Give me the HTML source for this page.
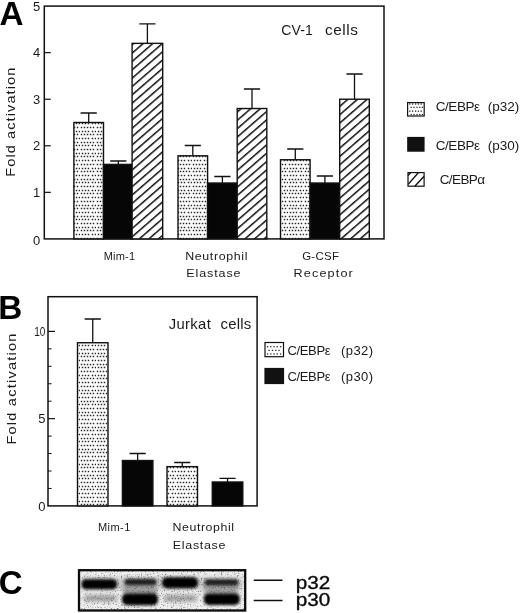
<!DOCTYPE html>
<html lang="en"><head><meta charset="utf-8"><title>Figure</title>
<style>
html,body{margin:0;padding:0;background:#fff;}
body{width:520px;height:613px;overflow:hidden;}
svg{display:block;font-family:"Liberation Sans", "DejaVu Sans", sans-serif;fill:#1a1a1a;}
</style></head><body>
<svg width="520" height="613" viewBox="0 0 520 613">
<defs>
<pattern id="dots" width="16" height="37" patternUnits="userSpaceOnUse"><g fill="#2a2a2a"><rect x="0.75" y="0.75" width="1.5" height="1.5"/><rect x="3.75" y="0.75" width="1.5" height="1.5"/><rect x="6.75" y="0.75" width="1.5" height="1.5"/><rect x="9.75" y="0.75" width="1.5" height="1.5"/><rect x="12.75" y="0.75" width="1.5" height="1.5"/><rect x="1.75" y="4.75" width="1.5" height="1.5"/><rect x="4.75" y="4.75" width="1.5" height="1.5"/><rect x="7.75" y="4.75" width="1.5" height="1.5"/><rect x="11.75" y="4.75" width="1.5" height="1.5"/><rect x="14.75" y="4.75" width="1.5" height="1.5"/><rect x="0.75" y="7.75" width="1.5" height="1.5"/><rect x="3.75" y="7.75" width="1.5" height="1.5"/><rect x="6.75" y="7.75" width="1.5" height="1.5"/><rect x="9.75" y="7.75" width="1.5" height="1.5"/><rect x="12.75" y="7.75" width="1.5" height="1.5"/><rect x="1.75" y="11.75" width="1.5" height="1.5"/><rect x="4.75" y="11.75" width="1.5" height="1.5"/><rect x="7.75" y="11.75" width="1.5" height="1.5"/><rect x="11.75" y="11.75" width="1.5" height="1.5"/><rect x="14.75" y="11.75" width="1.5" height="1.5"/><rect x="0.75" y="15.75" width="1.5" height="1.5"/><rect x="3.75" y="15.75" width="1.5" height="1.5"/><rect x="6.75" y="15.75" width="1.5" height="1.5"/><rect x="9.75" y="15.75" width="1.5" height="1.5"/><rect x="12.75" y="15.75" width="1.5" height="1.5"/><rect x="1.75" y="19.75" width="1.5" height="1.5"/><rect x="4.75" y="19.75" width="1.5" height="1.5"/><rect x="7.75" y="19.75" width="1.5" height="1.5"/><rect x="11.75" y="19.75" width="1.5" height="1.5"/><rect x="14.75" y="19.75" width="1.5" height="1.5"/><rect x="0.75" y="22.75" width="1.5" height="1.5"/><rect x="3.75" y="22.75" width="1.5" height="1.5"/><rect x="6.75" y="22.75" width="1.5" height="1.5"/><rect x="9.75" y="22.75" width="1.5" height="1.5"/><rect x="12.75" y="22.75" width="1.5" height="1.5"/><rect x="1.75" y="26.75" width="1.5" height="1.5"/><rect x="4.75" y="26.75" width="1.5" height="1.5"/><rect x="7.75" y="26.75" width="1.5" height="1.5"/><rect x="11.75" y="26.75" width="1.5" height="1.5"/><rect x="14.75" y="26.75" width="1.5" height="1.5"/><rect x="0.75" y="30.75" width="1.5" height="1.5"/><rect x="3.75" y="30.75" width="1.5" height="1.5"/><rect x="6.75" y="30.75" width="1.5" height="1.5"/><rect x="9.75" y="30.75" width="1.5" height="1.5"/><rect x="12.75" y="30.75" width="1.5" height="1.5"/><rect x="1.75" y="33.75" width="1.5" height="1.5"/><rect x="4.75" y="33.75" width="1.5" height="1.5"/><rect x="7.75" y="33.75" width="1.5" height="1.5"/><rect x="11.75" y="33.75" width="1.5" height="1.5"/><rect x="14.75" y="33.75" width="1.5" height="1.5"/></g></pattern>
<pattern id="hatch" width="6.3" height="6.3" patternUnits="userSpaceOnUse" patternTransform="rotate(-41)">
<rect x="0" y="0" width="6.3" height="1.5" fill="#111"/>
</pattern>
<pattern id="hatch2" width="5.6" height="5.6" patternUnits="userSpaceOnUse" patternTransform="translate(3.5,0) rotate(-45)">
<rect x="0" y="0" width="5.6" height="1.3" fill="#111"/>
</pattern>
<filter id="blur1" x="-20%" y="-50%" width="140%" height="200%"><feGaussianBlur stdDeviation="1.5"/></filter>
<filter id="blur2" x="-20%" y="-50%" width="140%" height="200%"><feGaussianBlur stdDeviation="2.2"/></filter>
<filter id="noise" x="0" y="0" width="100%" height="100%" color-interpolation-filters="sRGB">
<feTurbulence type="fractalNoise" baseFrequency="0.7" numOctaves="2" seed="4" result="n"/>
<feColorMatrix type="matrix" values="0 0 0 0 0.3  0 0 0 0 0.3  0 0 0 0 0.3  0 0 0 2.6 -1.45"/>
</filter>
</defs>
<rect width="520" height="613" fill="#fff"/>

<rect x="44.3" y="6.1" width="339.7" height="232.8" fill="none" stroke="#111" stroke-width="1.5"/>
<text x="40.3" y="244.7" font-size="13" text-anchor="end" font-weight="normal">0</text>
<path d="M44.3 192.34h6.5" stroke="#111" stroke-width="1.2"/>
<text x="40.3" y="197.04" font-size="13" text-anchor="end" font-weight="normal">1</text>
<path d="M44.3 145.78h6.5" stroke="#111" stroke-width="1.2"/>
<text x="40.3" y="150.48" font-size="13" text-anchor="end" font-weight="normal">2</text>
<path d="M44.3 99.22h6.5" stroke="#111" stroke-width="1.2"/>
<text x="40.3" y="103.92" font-size="13" text-anchor="end" font-weight="normal">3</text>
<path d="M44.3 52.66h6.5" stroke="#111" stroke-width="1.2"/>
<text x="40.3" y="57.36" font-size="13" text-anchor="end" font-weight="normal">4</text>
<text x="40.3" y="10.799999999999994" font-size="13" text-anchor="end" font-weight="normal">5</text>
<path d="M88.7 122.5V113M80.60000000000001 113H96.8" stroke="#111" stroke-width="1.3" fill="none"/>
<rect x="73.9" y="122.5" width="29.599999999999994" height="116.4" fill="#fff"/>
<rect x="73.9" y="122.5" width="29.599999999999994" height="116.4" fill="url(#dots)" stroke="#111" stroke-width="1.4"/>
<path d="M118.3 164.404V161M110.2 161H126.39999999999999" stroke="#111" stroke-width="1.3" fill="none"/>
<rect x="103.5" y="164.404" width="29.599999999999994" height="74.49600000000001" fill="#060606" stroke="#111" stroke-width="1.4"/>
<path d="M147.40000000000003 43.347999999999985V23.8M139.30000000000004 23.8H155.50000000000003" stroke="#111" stroke-width="1.3" fill="none"/>
<rect x="132.10000000000002" y="43.347999999999985" width="30.599999999999994" height="195.55200000000002" fill="#fff"/>
<rect x="132.10000000000002" y="43.347999999999985" width="30.599999999999994" height="195.55200000000002" fill="url(#hatch)" stroke="#111" stroke-width="1.4"/>
<path d="M192.8 155.7904V145.5M184.70000000000002 145.5H200.9" stroke="#111" stroke-width="1.3" fill="none"/>
<rect x="178.0" y="155.7904" width="29.599999999999994" height="83.1096" fill="#fff"/>
<rect x="178.0" y="155.7904" width="29.599999999999994" height="83.1096" fill="url(#dots)" stroke="#111" stroke-width="1.4"/>
<path d="M222.39999999999998 183.02800000000002V176.5M214.29999999999998 176.5H230.49999999999997" stroke="#111" stroke-width="1.3" fill="none"/>
<rect x="207.6" y="183.02800000000002" width="29.599999999999994" height="55.871999999999986" fill="#060606" stroke="#111" stroke-width="1.4"/>
<path d="M252.0 108.53200000000001V89M243.9 89H260.1" stroke="#111" stroke-width="1.3" fill="none"/>
<rect x="237.2" y="108.53200000000001" width="29.600000000000023" height="130.368" fill="#fff"/>
<rect x="237.2" y="108.53200000000001" width="29.600000000000023" height="130.368" fill="url(#hatch)" stroke="#111" stroke-width="1.4"/>
<path d="M295.3 159.748V149M287.2 149H303.40000000000003" stroke="#111" stroke-width="1.3" fill="none"/>
<rect x="280.5" y="159.748" width="29.600000000000023" height="79.15200000000002" fill="#fff"/>
<rect x="280.5" y="159.748" width="29.600000000000023" height="79.15200000000002" fill="url(#dots)" stroke="#111" stroke-width="1.4"/>
<path d="M324.90000000000003 183.02800000000002V176M316.8 176H333.00000000000006" stroke="#111" stroke-width="1.3" fill="none"/>
<rect x="310.1" y="183.02800000000002" width="29.600000000000023" height="55.871999999999986" fill="#060606" stroke="#111" stroke-width="1.4"/>
<path d="M354.5 99.22V74M346.4 74H362.6" stroke="#111" stroke-width="1.3" fill="none"/>
<rect x="339.7" y="99.22" width="29.600000000000023" height="139.68" fill="#fff"/>
<rect x="339.7" y="99.22" width="29.600000000000023" height="139.68" fill="url(#hatch)" stroke="#111" stroke-width="1.4"/>
<text x="281.3" y="35" font-size="14" text-anchor="start" font-weight="normal" textLength="31.5" lengthAdjust="spacing">CV-1</text>
<text transform="translate(325,35) scale(1.1,1)" font-size="14" textLength="30.00" lengthAdjust="spacing">cells</text>
<text x="103.8" y="260" font-size="11" text-anchor="start" font-weight="normal" textLength="31.2" lengthAdjust="spacing">Mim-1</text>
<text transform="translate(185.2,260) scale(1.13,1)" font-size="11" textLength="55.13" lengthAdjust="spacing">Neutrophil</text>
<text transform="translate(186.2,276.7) scale(1.14,1)" font-size="11" textLength="47.72" lengthAdjust="spacing">Elastase</text>
<text transform="translate(302.2,260) scale(1.04,1)" font-size="11" textLength="35.29" lengthAdjust="spacing">G-CSF</text>
<text transform="translate(293.6,276.7) scale(1.15,1)" font-size="11" textLength="51.48" lengthAdjust="spacing">Receptor</text>
<text transform="translate(14.5,176.7) rotate(-90) scale(1.12,1)" font-size="13" textLength="97.32" lengthAdjust="spacing">Fold activation</text>
<text x="-0.4" y="24.9" font-size="33.3" text-anchor="start" font-weight="bold" fill="#000">A</text>
<rect x="407.6" y="102.6" width="16.6" height="13.4" fill="#fff"/>
<rect x="407.6" y="102.6" width="16.6" height="13.4" fill="none" stroke="#111" stroke-width="1.2"/>
<rect x="409.15" y="103.35" width="1.3" height="1.3" fill="#2b2b2b"/>
<rect x="411.95" y="103.35" width="1.3" height="1.3" fill="#2b2b2b"/>
<rect x="414.95" y="103.35" width="1.3" height="1.3" fill="#2b2b2b"/>
<rect x="417.75" y="103.35" width="1.3" height="1.3" fill="#2b2b2b"/>
<rect x="420.55" y="103.35" width="1.3" height="1.3" fill="#2b2b2b"/>
<rect x="410.55" y="106.75" width="1.3" height="1.3" fill="#2b2b2b"/>
<rect x="413.35" y="106.75" width="1.3" height="1.3" fill="#2b2b2b"/>
<rect x="416.35" y="106.75" width="1.3" height="1.3" fill="#2b2b2b"/>
<rect x="419.15" y="106.75" width="1.3" height="1.3" fill="#2b2b2b"/>
<rect x="421.75" y="106.75" width="1.3" height="1.3" fill="#2b2b2b"/>
<rect x="409.15" y="110.55" width="1.3" height="1.3" fill="#2b2b2b"/>
<rect x="411.95" y="110.55" width="1.3" height="1.3" fill="#2b2b2b"/>
<rect x="414.95" y="110.55" width="1.3" height="1.3" fill="#2b2b2b"/>
<rect x="417.75" y="110.55" width="1.3" height="1.3" fill="#2b2b2b"/>
<rect x="420.55" y="110.55" width="1.3" height="1.3" fill="#2b2b2b"/>
<rect x="410.55" y="113.95" width="1.3" height="1.3" fill="#2b2b2b"/>
<rect x="413.35" y="113.95" width="1.3" height="1.3" fill="#2b2b2b"/>
<rect x="416.35" y="113.95" width="1.3" height="1.3" fill="#2b2b2b"/>
<rect x="419.15" y="113.95" width="1.3" height="1.3" fill="#2b2b2b"/>
<rect x="421.75" y="113.95" width="1.3" height="1.3" fill="#2b2b2b"/>
<rect x="407.8" y="137.5" width="16.2" height="13.6" fill="#111" stroke="#111" stroke-width="1.2"/>
<rect x="408" y="172.6" width="16.1" height="13.6" fill="#fff"/>
<rect x="408" y="172.6" width="16.1" height="13.6" fill="none" stroke="#111" stroke-width="1.2"/>
<path d="M408.1 184.4L418.3 172.7M414.8 186.2L424.1 176.3M408 175.6L410.6 172.7" stroke="#111" stroke-width="1.4" fill="none"/>
<text x="435.8" y="111.3" font-size="13.5" text-anchor="start" font-weight="normal" textLength="44.2" lengthAdjust="spacing">C/EBPε</text>
<text x="487.8" y="111.3" font-size="13.5" text-anchor="start" font-weight="normal" textLength="31.5" lengthAdjust="spacing">(p32)</text>
<text x="435.8" y="150" font-size="13.5" text-anchor="start" font-weight="normal" textLength="44.2" lengthAdjust="spacing">C/EBPε</text>
<text x="487.8" y="150" font-size="13.5" text-anchor="start" font-weight="normal" textLength="31.5" lengthAdjust="spacing">(p30)</text>
<text x="439.7" y="183.5" font-size="13.5" text-anchor="start" font-weight="normal" textLength="45.3" lengthAdjust="spacing">C/EBPα</text>
<rect x="48.0" y="296.7" width="209.10000000000002" height="209.2" fill="none" stroke="#111" stroke-width="1.5"/>
<text x="45.4" y="511.3" font-size="13" text-anchor="end" font-weight="normal">0</text>
<path d="M48.0 488.45h3.6" stroke="#111" stroke-width="1"/>
<path d="M48.0 471.0h3.6" stroke="#111" stroke-width="1"/>
<path d="M48.0 453.54999999999995h3.6" stroke="#111" stroke-width="1"/>
<path d="M48.0 436.09999999999997h3.6" stroke="#111" stroke-width="1"/>
<path d="M48.0 418.65h7" stroke="#111" stroke-width="1.2"/>
<text x="45.4" y="423.45" font-size="13" text-anchor="end" font-weight="normal">5</text>
<path d="M48.0 401.2h3.6" stroke="#111" stroke-width="1"/>
<path d="M48.0 383.75h3.6" stroke="#111" stroke-width="1"/>
<path d="M48.0 366.29999999999995h3.6" stroke="#111" stroke-width="1"/>
<path d="M48.0 348.85h3.6" stroke="#111" stroke-width="1"/>
<path d="M48.0 331.4h7" stroke="#111" stroke-width="1.2"/>
<text x="45.4" y="336.2" font-size="13" text-anchor="end" textLength="11.2" lengthAdjust="spacingAndGlyphs">10</text>
<path d="M92.75 342.74249999999995V319M84.65 319H100.85" stroke="#111" stroke-width="1.3" fill="none"/>
<rect x="77.5" y="342.74249999999995" width="30.5" height="163.15750000000003" fill="#fff"/>
<rect x="77.5" y="342.74249999999995" width="30.5" height="163.15750000000003" fill="url(#dots)" stroke="#111" stroke-width="1.4"/>
<path d="M137.65 460.53V453.5M129.55 453.5H145.75" stroke="#111" stroke-width="1.3" fill="none"/>
<rect x="122.4" y="460.53" width="30.5" height="45.370000000000005" fill="#060606" stroke="#111" stroke-width="1.4"/>
<path d="M182.25 466.6375V462.5M174.15 462.5H190.35" stroke="#111" stroke-width="1.3" fill="none"/>
<rect x="167" y="466.6375" width="30.5" height="39.26249999999999" fill="#fff"/>
<rect x="167" y="466.6375" width="30.5" height="39.26249999999999" fill="url(#dots)" stroke="#111" stroke-width="1.4"/>
<path d="M227.55 481.9935V478.3M219.45000000000002 478.3H235.65" stroke="#111" stroke-width="1.3" fill="none"/>
<rect x="212.3" y="481.9935" width="30.5" height="23.906499999999994" fill="#060606" stroke="#111" stroke-width="1.4"/>
<text transform="translate(168.8,328.8) scale(1.06,1)" font-size="14" textLength="39.62" lengthAdjust="spacing">Jurkat</text>
<text transform="translate(220.5,328.8) scale(1.07,1)" font-size="14" textLength="28.69" lengthAdjust="spacing">cells</text>
<text x="98" y="531.2" font-size="11" text-anchor="start" font-weight="normal" textLength="32.3" lengthAdjust="spacing">Mim-1</text>
<text transform="translate(172.5,531.2) scale(1.13,1)" font-size="11" textLength="54.42" lengthAdjust="spacing">Neutrophil</text>
<text transform="translate(172.8,548.5) scale(1.14,1)" font-size="11" textLength="46.23" lengthAdjust="spacing">Elastase</text>
<text transform="translate(16,444.6) rotate(-90) scale(1.12,1)" font-size="13" textLength="99.11" lengthAdjust="spacing">Fold activation</text>
<text x="-1.8" y="318.9" font-size="33.3" text-anchor="start" font-weight="bold" fill="#000">B</text>
<rect x="265" y="342.5" width="18.5" height="14.2" fill="#fff"/>
<rect x="265" y="342.5" width="18.5" height="14.2" fill="none" stroke="#111" stroke-width="1.2"/>
<rect x="266.95" y="346.05" width="1.3" height="1.3" fill="#2b2b2b"/>
<rect x="270.15" y="346.05" width="1.3" height="1.3" fill="#2b2b2b"/>
<rect x="273.35" y="346.05" width="1.3" height="1.3" fill="#2b2b2b"/>
<rect x="276.55" y="346.05" width="1.3" height="1.3" fill="#2b2b2b"/>
<rect x="279.95" y="346.05" width="1.3" height="1.3" fill="#2b2b2b"/>
<rect x="268.35" y="349.75" width="1.3" height="1.3" fill="#2b2b2b"/>
<rect x="271.85" y="349.75" width="1.3" height="1.3" fill="#2b2b2b"/>
<rect x="275.15" y="349.75" width="1.3" height="1.3" fill="#2b2b2b"/>
<rect x="278.35" y="349.75" width="1.3" height="1.3" fill="#2b2b2b"/>
<rect x="266.95" y="353.35" width="1.3" height="1.3" fill="#2b2b2b"/>
<rect x="270.15" y="353.35" width="1.3" height="1.3" fill="#2b2b2b"/>
<rect x="273.35" y="353.35" width="1.3" height="1.3" fill="#2b2b2b"/>
<rect x="276.55" y="353.35" width="1.3" height="1.3" fill="#2b2b2b"/>
<rect x="279.95" y="353.35" width="1.3" height="1.3" fill="#2b2b2b"/>
<rect x="265" y="368.5" width="18.5" height="15" fill="#111" stroke="#111" stroke-width="1.2"/>
<text x="287.5" y="355" font-size="13" text-anchor="start" font-weight="normal" textLength="43" lengthAdjust="spacing">C/EBPε</text>
<text x="341" y="355" font-size="13" text-anchor="start" font-weight="normal" textLength="32" lengthAdjust="spacing">(p32)</text>
<text x="287.5" y="380.5" font-size="13" text-anchor="start" font-weight="normal" textLength="43" lengthAdjust="spacing">C/EBPε</text>
<text x="341" y="380.5" font-size="13" text-anchor="start" font-weight="normal" textLength="32" lengthAdjust="spacing">(p30)</text>
<text x="-1.2" y="593.8" font-size="33" text-anchor="start" font-weight="bold" fill="#000">C</text>
<rect x="79" y="570.2" width="166.2" height="40.299999999999955" fill="#efefef"/>
<g filter="url(#blur2)" fill="#666" opacity="0.6">
<rect x="84" y="595" width="33" height="6.5" rx="3"/><rect x="164" y="595" width="33" height="6.5" rx="3"/>
<rect x="123" y="584" width="34" height="12" rx="3"/><rect x="204" y="584" width="34" height="11" rx="3"/>
<rect x="81" y="577" width="162" height="12" rx="4" opacity="0.45"/>
</g>
<rect x="79" y="570.2" width="166.2" height="40.299999999999955" filter="url(#noise)"/>
<g filter="url(#blur1)" fill="#050505">
<rect x="81.5" y="579.3" width="35.5" height="10" rx="4.5"/>
<rect x="124.5" y="578.8" width="32" height="6.4" rx="3" fill="#1c1c1c"/>
<rect x="122" y="593.6" width="36" height="11.6" rx="5"/>
<rect x="162" y="577.2" width="36" height="11" rx="5"/>
<rect x="204.5" y="579.2" width="34" height="6.4" rx="3" fill="#1c1c1c"/>
<rect x="203.8" y="593.4" width="36" height="11.6" rx="5"/>
</g>
<rect x="79" y="570.2" width="166.2" height="40.299999999999955" fill="none" stroke="#0c0c0c" stroke-width="2.3"/>
<path d="M253.7 580.3H282.5M253.7 600.5H282.5" stroke="#111" stroke-width="1.5"/>
<text transform="translate(295.8,589) scale(1.15,1)" font-size="18" fill="#0a0a0a" stroke="#0a0a0a" stroke-width="0.35">p32</text>
<text transform="translate(295.8,605.7) scale(1.15,1)" font-size="18" fill="#0a0a0a" stroke="#0a0a0a" stroke-width="0.35">p30</text>
</svg></body></html>
